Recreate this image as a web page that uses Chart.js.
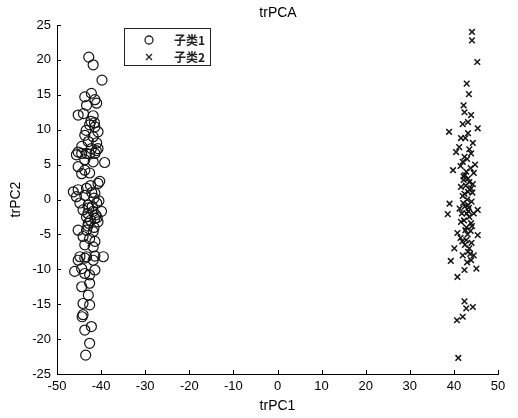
<!DOCTYPE html>
<html>
<head>
<meta charset="utf-8">
<script src="https://cdn.jsdelivr.net/npm/chart.js@4.4.1/dist/chart.umd.min.js"></script>
<style>
    body { margin: 0; background: #fff; }
    canvas { display: block; }
</style>
</head>
<body>
<canvas id="pcaChart" width="518" height="418"></canvas>
<script>
// ====== DATA ======
const seriesNames = ['子类1', '子类2'];

// 子类1 (circles)
const circleX = [-42.8, -41.8, -39.8, -42.2, -43.7, -41.4, -43.3, -41.0, -45.2, -44.0, -41.8, -42.6, -41.4, -40.7, -43.7, -41.8, -42.9, -41.0, -44.4, -42.2, -40.7, -45.2, -43.3,
    -45.6, -44.4, -42.6, -41.4, -43.7, -41.8, -39.2, -45.2, -43.7, -42.6, -44.4, -40.7, -40.3, -46.3, -45.2, -43.3, -45.6, -43.7, -41.4, -44.8, -42.9, -41.0,
    -44.1, -41.8, -39.9, -43.3, -41.4, -40.7, -42.9, -45.2, -43.3, -41.8, -44.1, -42.6, -41.4, -43.7, -41.8, -44.8, -43.3, -41.4, -39.5,
    -45.2, -43.7, -41.8, -46.0, -44.4, -43.7, -42.6, -41.4, -44.4, -42.6, -42.9, -44.1, -42.6, -44.1, -44.3, -43.7, -42.2, -42.6, -43.5,
    -42.0, -41.2, -40.5, -42.4, -43.0, -41.6, -42.8, -40.9, -42.1, -43.0, -41.6, -42.4, -42.3, -41.5, -43.4, -41.1];
const circleY = [20.4, 19.3, 17.1, 15.2, 14.7, 14.3, 13.5, 13.8, 12.1, 12.3, 12.0, 10.7, 10.4, 9.7, 9.2, 9.0, 8.3, 8.1, 7.6, 7.3, 7.3, 6.8, 6.6,
    6.4, 6.6, 6.5, 6.6, 5.7, 5.4, 5.3, 4.7, 4.2, 3.8, 3.7, 2.3, 2.6, 1.1, 1.4, 1.6, 0.4, 0.6, 0.9, -0.5, -0.8, -0.5,
    -1.5, -1.7, -1.7, -2.5, -2.7, -3.2, -3.4, -4.4, -4.4, -4.6, -5.3, -5.6, -6.0, -6.5, -6.8, -8.2, -8.2, -8.1, -8.2,
    -8.7, -8.4, -8.7, -10.3, -9.9, -10.6, -10.8, -10.1, -12.5, -12.0, -13.7, -14.9, -15.1, -16.5, -16.8, -18.7, -18.2, -20.6, -22.3,
    -1.0, -2.2, -0.2, -3.0, -2.0, 0.2, -1.2, -2.6, 1.0, -3.8, -4.0, 2.0, 11.2, 11.0, 9.9, 7.0];

// 子类2 (crosses)
const crossX = [44.1, 44.1, 45.3, 42.9, 43.4, 42.2, 42.4, 43.9, 43.2, 45.4, 38.9, 41.6, 43.2, 44.3, 40.5, 43.9, 42.4, 39.8, 42.0, 42.8, 43.2, 41.6, 43.9, 43.2,
    39.0, 38.6, 41.3, 43.2, 45.4, 41.6, 43.9, 40.8, 45.4, 42.8, 40.1, 43.2, 39.3, 43.9, 45.1, 42.4, 40.8, 42.4, 42.8, 44.3, 42.0, 40.7, 41.0,
    42.5, 43.5, 44.5, 42.0, 43.0, 44.0, 42.5, 41.8, 43.5, 42.3, 44.5, 42.8, 43.8, 41.5, 44.0, 42.5, 43.5, 44.5, 42.0, 43.0, 42.2, 41.2, 43.5,
    44.8, 42.6, 42.0, 43.8, 41.5, 42.9, 44.2, 42.7, 43.6, 42.1, 43.3, 44.1, 42.6, 43.1, 41.9, 43.7, 42.4, 43.0, 44.3, 42.2, 43.4];
const crossY = [24.0, 22.8, 19.7, 16.6, 15.1, 13.5, 12.5, 12.1, 11.1, 10.2, 9.7, 8.8, 9.5, 8.1, 6.8, 6.6, 6.1, 4.2, 5.4, 4.0, 3.0, 1.8, 1.6, 1.1,
    -0.6, -2.1, -1.3, -0.8, -1.5, -3.2, -3.4, -4.8, -5.1, -5.8, -7.0, -7.5, -8.8, -8.7, -9.9, -10.1, -11.1, -14.6, -15.6, -15.4, -16.8, -17.3, -22.7,
    3.5, 2.5, 3.8, 0.5, 0.0, -0.3, -1.0, -2.0, -2.5, -3.0, -2.0, -4.0, -4.5, -5.5, -6.2, -6.5, -7.0, -8.0, -8.0, -9.0, 2.8, 7.5, 7.2,
    5.0, 8.8, 10.8, 4.5, 4.8, -2.0, 1.0, 2.0, 1.4, -0.5, -1.7, -3.8, -4.4, -5.0, -6.0, -7.8, 0.8, 5.8, 2.2, 3.3, -1.2];

const xTicks = [-50, -40, -30, -20, -10, 0, 10, 20, 30, 40, 50];
const yTicks = [-25, -20, -15, -10, -5, 0, 5, 10, 15, 20, 25];

const chartTitle = 'trPCA';
const xTitle = 'trPC1';
const yTitle = 'trPC2';

// ====== PLUGINS ======
// inward tick marks on left and bottom axes
const inwardTicks = {
    id: 'inwardTicks',
    afterDraw(chart) {
        const { ctx, scales: { x, y }, chartArea } = chart;
        ctx.save();
        ctx.strokeStyle = '#000';
        ctx.lineWidth = 1;
        ctx.beginPath();
        xTicks.forEach(v => {
            const px = Math.round(x.getPixelForValue(v)) + 0.5;
            ctx.moveTo(px, chartArea.bottom);
            ctx.lineTo(px, chartArea.bottom - 4);
        });
        yTicks.forEach(v => {
            const py = Math.round(y.getPixelForValue(v)) + 0.5;
            ctx.moveTo(chartArea.left, py);
            ctx.lineTo(chartArea.left + 4, py);
        });
        ctx.stroke();
        ctx.restore();
    }
};

// title + boxed legend in the top-left of the plot
const boxLegend = {
    id: 'boxLegend',
    afterDraw(chart) {
        const { ctx } = chart;
        ctx.save();
        ctx.fillStyle = '#000';
        ctx.font = '14px "Liberation Sans", Arial, sans-serif';
        ctx.textAlign = 'center';
        ctx.textBaseline = 'middle';
        ctx.fillText(chartTitle, 278, 13);

        ctx.strokeStyle = '#222';
        ctx.lineWidth = 1;
        ctx.strokeRect(124.5, 28.5, 86, 37);

        // circle marker
        ctx.lineWidth = 1.3;
        ctx.beginPath();
        ctx.arc(149, 40, 4, 0, Math.PI * 2);
        ctx.stroke();
        // cross marker
        ctx.beginPath();
        ctx.moveTo(146, 54); ctx.lineTo(152, 60);
        ctx.moveTo(152, 54); ctx.lineTo(146, 60);
        ctx.stroke();

        ctx.textAlign = 'left';
        ctx.font = 'bold 12px "Noto Sans CJK SC", sans-serif';
        ctx.fillStyle = '#222';
        ctx.fillText(seriesNames[0], 174, 40);
        ctx.fillText(seriesNames[1], 174, 57);
        ctx.restore();
    }
};

// ====== CHART ======
const toPoints = (xs, ys) => xs.map((v, i) => ({ x: v, y: ys[i] }));
const axisFont = { family: '"Liberation Sans", Arial, sans-serif', size: 13 };

const ctx = document.getElementById('pcaChart').getContext('2d');
new Chart(ctx, {
    type: 'scatter',
    data: {
        datasets: [
            {
                label: seriesNames[0],
                data: toPoints(circleX, circleY),
                pointStyle: 'circle',
                pointRadius: 5,
                borderColor: '#151515',
                backgroundColor: 'transparent',
                borderWidth: 1.2
            },
            {
                label: seriesNames[1],
                data: toPoints(crossX, crossY),
                pointStyle: 'crossRot',
                pointRadius: 4,
                borderColor: '#151515',
                backgroundColor: 'transparent',
                borderWidth: 1.5
            }
        ]
    },
    options: {
        responsive: false,
        animation: false,
        layout: { padding: { top: 25, right: 20, left: 0, bottom: 0 } },
        plugins: {
            legend: { display: false },
            tooltip: { enabled: false },
            title: { display: false }
        },
        scales: {
            x: {
                type: 'linear',
                min: -50,
                max: 50,
                afterFit: s => { s.height = 44; },
                afterBuildTicks: s => { s.ticks = xTicks.map(v => ({ value: v })); },
                grid: { display: false, drawTicks: false },
                border: { display: true, color: '#000', width: 1 },
                ticks: { color: '#000', padding: 5, maxRotation: 0, font: axisFont },
                title: {
                    display: true,
                    text: xTitle,
                    color: '#000',
                    padding: { top: 0, bottom: 3 },
                    font: { family: axisFont.family, size: 14 }
                }
            },
            y: {
                type: 'linear',
                min: -25,
                max: 25,
                afterFit: s => { s.width = 57; },
                afterBuildTicks: s => { s.ticks = yTicks.map(v => ({ value: v })); },
                grid: { display: false, drawTicks: false },
                border: { display: true, color: '#000', width: 1 },
                ticks: { color: '#000', padding: 6, font: axisFont },
                title: {
                    display: true,
                    text: yTitle,
                    color: '#000',
                    padding: { top: 8, bottom: 0 },
                    font: { family: axisFont.family, size: 14 }
                }
            }
        }
    },
    plugins: [inwardTicks, boxLegend]
});
</script>
</body>
</html>
